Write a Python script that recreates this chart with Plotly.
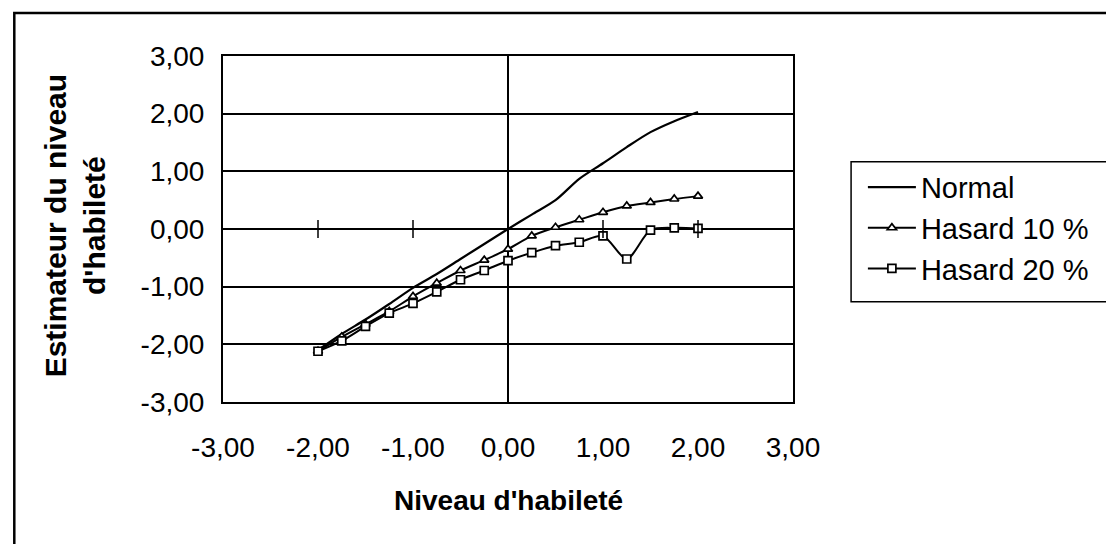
import plotly.graph_objects as go

niveau = [-2.0, -1.75, -1.5, -1.25, -1.0, -0.75, -0.5, -0.25, 0.0,
          0.25, 0.5, 0.75, 1.0, 1.25, 1.5, 1.75, 2.0]
normal = [-2.10, -1.82, -1.57, -1.30, -1.02, -0.78, -0.52, -0.26, 0.00,
          0.25, 0.50, 0.87, 1.14, 1.42, 1.68, 1.87, 2.03]
hasard10 = [-2.12, -1.87, -1.65, -1.43, -1.17, -0.94, -0.72, -0.54, -0.35,
            -0.12, 0.03, 0.16, 0.29, 0.40, 0.46, 0.52, 0.57]
hasard20 = [-2.12, -1.94, -1.69, -1.46, -1.29, -1.09, -0.88, -0.72, -0.55,
            -0.41, -0.29, -0.23, -0.12, -0.52, -0.02, 0.02, 0.01]

tick_vals = [-3, -2, -1, 0, 1, 2, 3]
tick_text = ["-3,00", "-2,00", "-1,00", "0,00", "1,00", "2,00", "3,00"]

FONT = "Liberation Sans, Arial, sans-serif"

fig = go.Figure()
fig.add_trace(go.Scatter(x=niveau, y=normal, name="Normal", mode="lines",
                         line=dict(color="black", width=2.2, shape="spline", smoothing=0.8)))
fig.add_trace(go.Scatter(x=niveau, y=hasard10, name="Hasard 10 %", mode="lines+markers",
                         line=dict(color="black", width=2, shape="spline", smoothing=0.8),
                         marker=dict(symbol="triangle-up", size=8, color="white",
                                     line=dict(color="black", width=1.7))))
fig.add_trace(go.Scatter(x=niveau, y=hasard20, name="Hasard 20 %", mode="lines+markers",
                         line=dict(color="black", width=2, shape="spline", smoothing=0.8),
                         marker=dict(symbol="square", size=8, color="white",
                                     line=dict(color="black", width=1.7))))

axis_common = dict(range=[-3, 3], tickvals=tick_vals, ticktext=tick_text,
                   gridcolor="black", gridwidth=1.5,
                   zeroline=True, zerolinecolor="black", zerolinewidth=1.5,
                   showline=True, linecolor="black", linewidth=2, mirror=True,
                   ticks="", tickfont=dict(family=FONT, size=28, color="black"),
                   fixedrange=True)

L, R = 223, 802
W = R - L

fig.update_layout(
    width=1106, height=544,
    margin=dict(l=L, r=1106 - R, t=56, b=142),
    paper_bgcolor="white", plot_bgcolor="white",
    font=dict(family=FONT, color="black"),
    xaxis={**axis_common, "showgrid": False, "ticklabelstandoff": 19},
    yaxis={**axis_common, "showgrid": True, "ticklabelstandoff": 11},
    showlegend=True,
    legend=dict(x=(873 - L) / W, y=0.6945, xanchor="left", yanchor="top",
                font=dict(family=FONT, size=29, color="black"),
                bgcolor="rgba(0,0,0,0)", borderwidth=0, itemwidth=48,
                traceorder="normal"),
)

# crossing tick marks on the horizontal zero axis
for v in tick_vals:
    if v in (-3, 0, 3):
        continue
    fig.add_shape(type="line", xref="x", yref="y", x0=v, x1=v,
                  ysizemode="pixel", yanchor=0, y0=-9, y1=9,
                  line=dict(color="black", width=1.5))

# legend box
fig.add_shape(type="rect", xref="paper", yref="paper",
              x0=(861 - L) / W, x1=1.6, y0=(402 - 301.7) / 346, y1=(402 - 161.7) / 346,
              line=dict(color="black", width=1.5))
# outer chart border
fig.add_shape(type="rect", xref="paper", yref="paper",
              x0=(11 - L) / W, x1=1.7, y0=-0.5, y1=(402 - 13) / 346,
              line=dict(color="black", width=2.5))

fig.add_annotation(xref="paper", yref="paper", x=0.5, y=(402 - 500) / 346,
                   text="<b>Niveau d'habileté</b>", showarrow=False,
                   xanchor="center", yanchor="middle",
                   font=dict(family=FONT, size=28, color="black"))
fig.add_annotation(xref="paper", yref="paper", x=(73 - L) / W, y=(402 - 226) / 346,
                   text="<b>Estimateur du niveau<br>d'habileté</b>", showarrow=False,
                   textangle=-90, xanchor="center", yanchor="middle",
                   font=dict(family=FONT, size=30, color="black"))

fig.write_html("out.html")
